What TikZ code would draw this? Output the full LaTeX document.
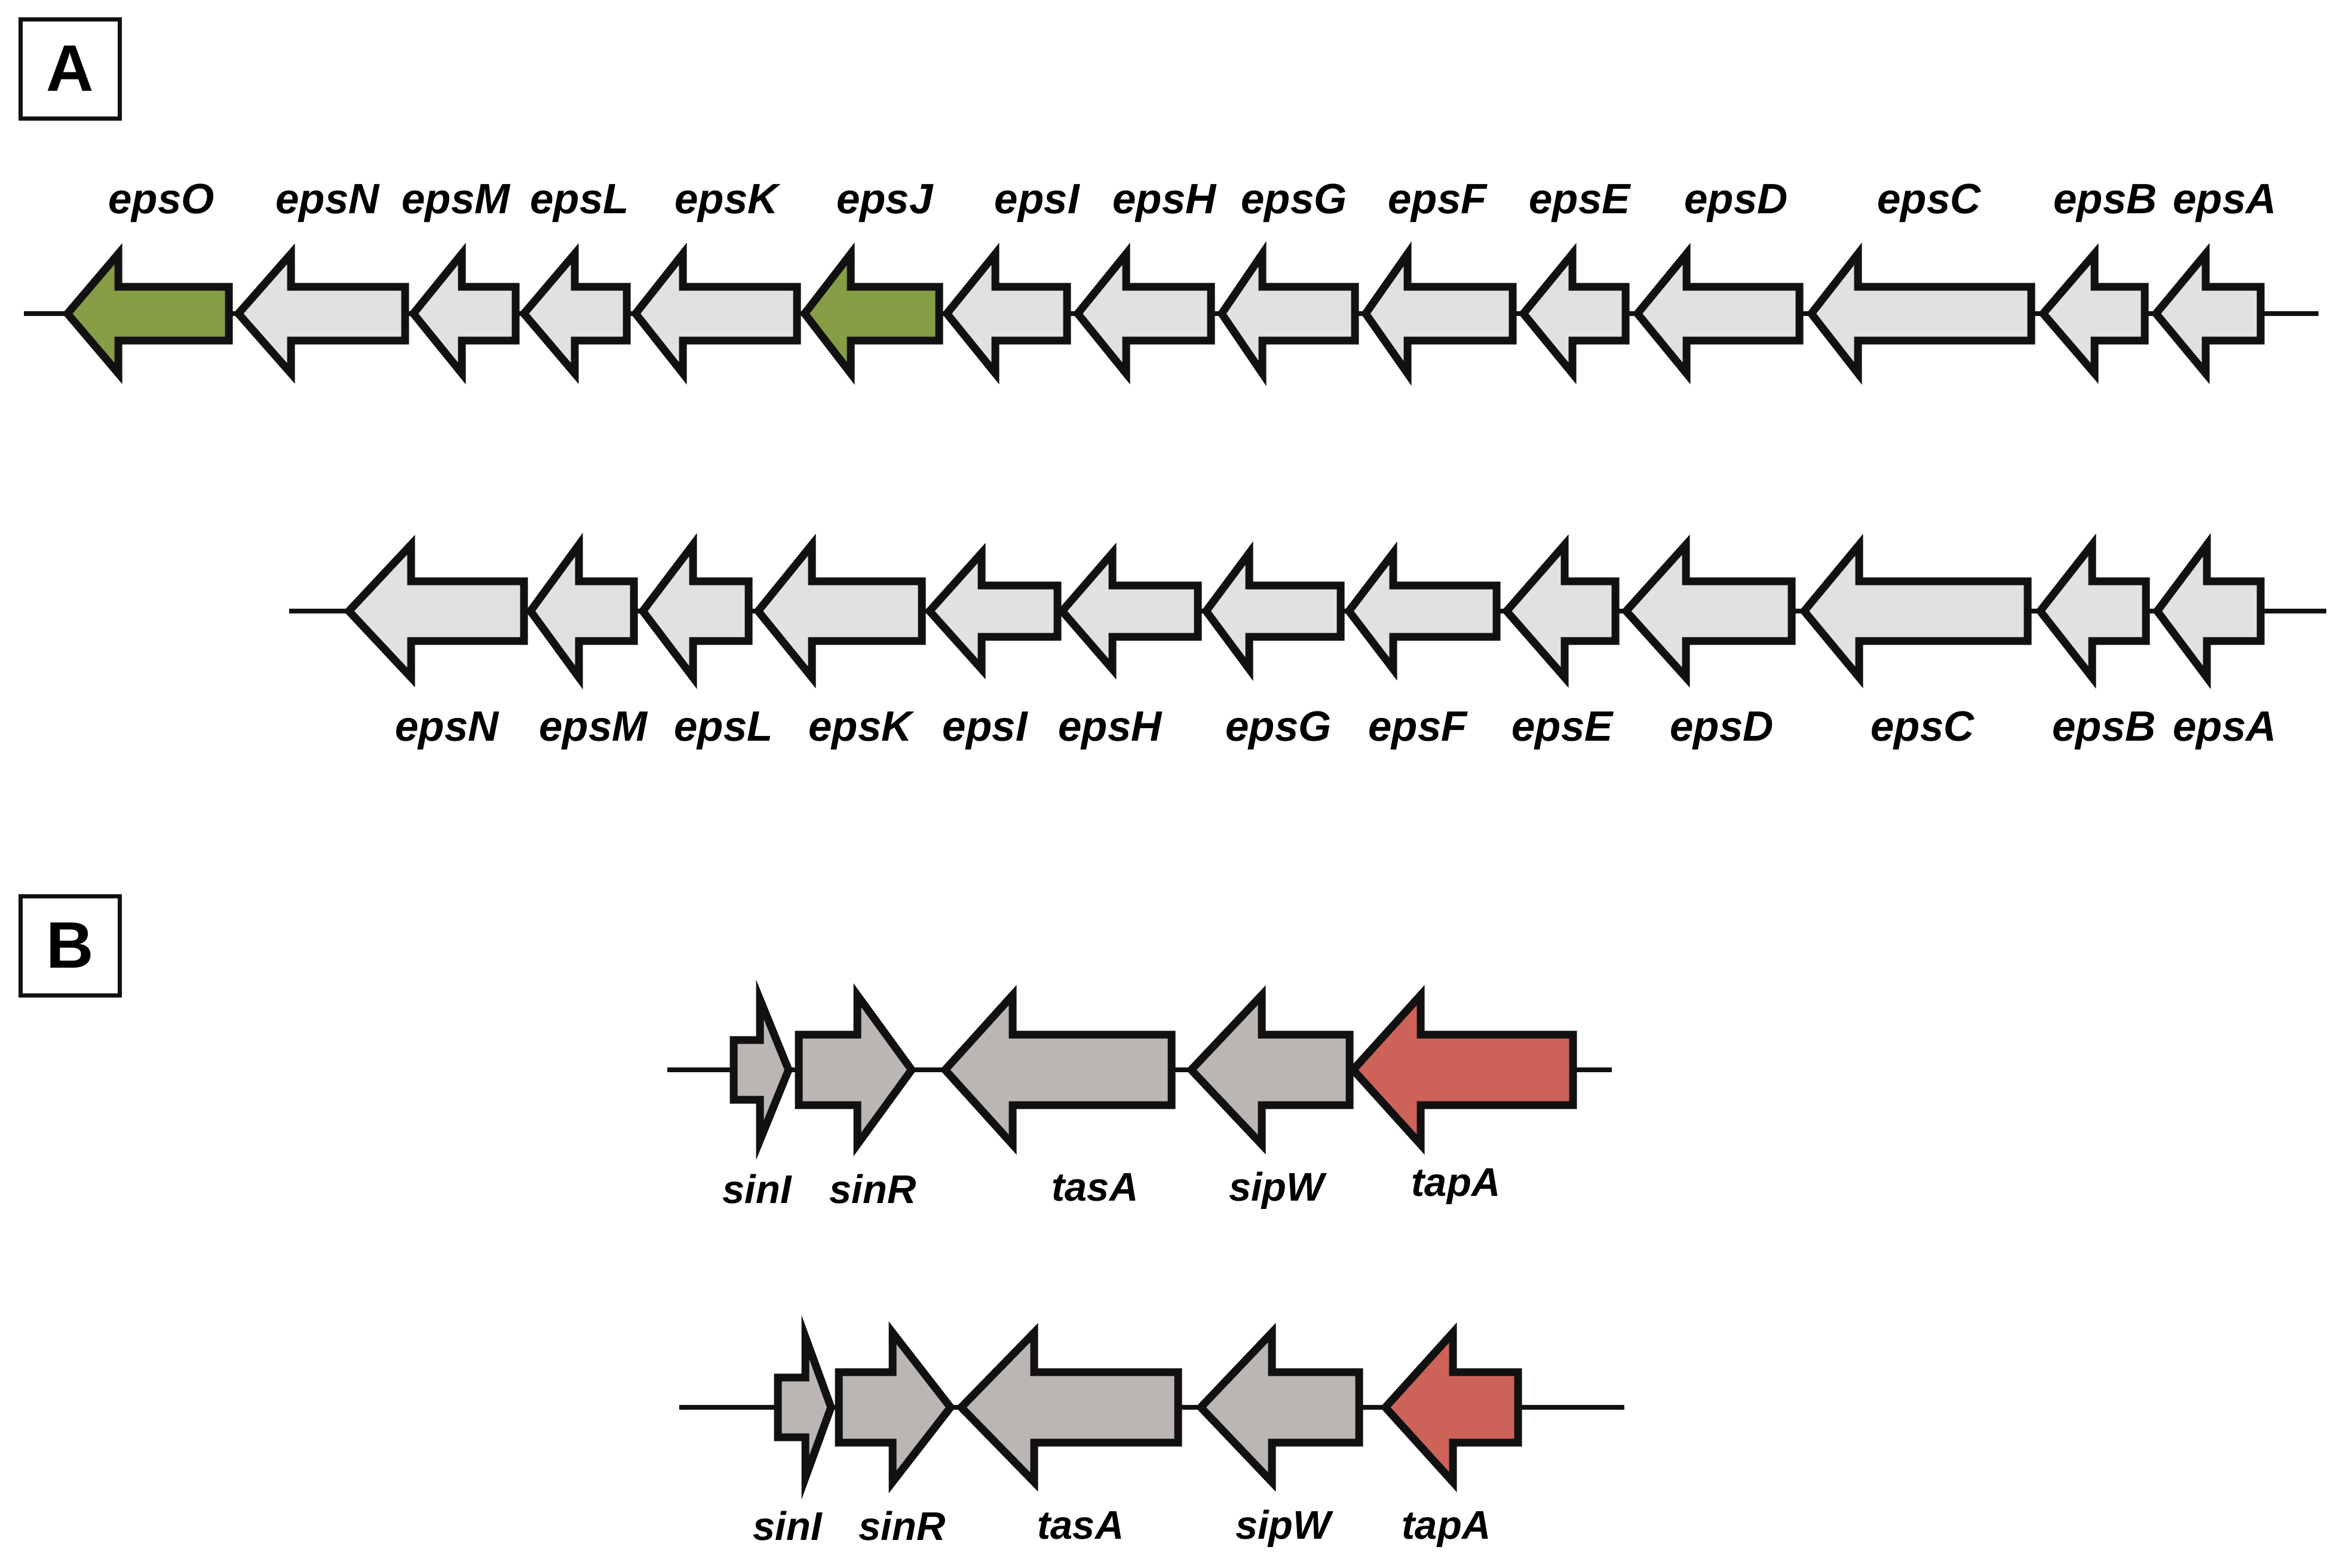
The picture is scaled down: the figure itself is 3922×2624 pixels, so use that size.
\documentclass[tikz,border=0pt]{standalone}
\usepackage{fontspec}
\setmainfont{Liberation Sans}
\definecolor{epsgreen}{HTML}{869D45}
\definecolor{epsgray}{HTML}{E3E1E0}
\definecolor{singray}{HTML}{BBB6B3}
\definecolor{tapred}{HTML}{CD6259}
\definecolor{ink}{HTML}{111111}
\newcommand{\genearrow}[7]{% tip x, head-base x, end x, centre y, head half, body half, fill
  \filldraw[genebox, fill=#7] ({#1},{#4}) -- ({#2},{#4-#5}) -- ({#2},{#4-#6}) -- ({#3},{#4-#6})
    -- ({#3},{#4+#6}) -- ({#2},{#4+#6}) -- ({#2},{#4+#5}) -- cycle;}
\tikzset{
  genebox/.style={draw=ink, line width=13pt, line join=miter},
  backbone/.style={draw=ink, line width=8pt},
  lab/.style={anchor=base, inner sep=0pt, font=\fontsize{71}{84}\selectfont\bfseries\itshape},
  labB/.style={anchor=base, inner sep=0pt, font=\fontsize{67}{80}\selectfont\bfseries\itshape},
  panel/.style={draw=ink, line width=7pt, minimum width=166pt, minimum height=166pt, inner sep=0pt,
    font=\fontsize{110}{120}\selectfont\bfseries}
}
\begin{document}
\begin{tikzpicture}[x=1pt,y=-1pt]
\useasboundingbox (0,0) rectangle (3922,2624);
\fill[white] (0,0) rectangle (3922,2624);

% panel letters
\node[panel] (pA) at (117,115) {A};
\node[panel] (pB) at (117,1583) {B};

% ---------- Panel A, row 1 ----------
\coordinate (r1l) at (40,525);
\coordinate (r1r) at (3881,525);
\draw[backbone] (r1l) -- (r1r);
\genearrow{113}{198}{383}{525}{100}{45}{epsgreen}
\genearrow{399}{487}{678}{525}{100}{45}{epsgray}
\genearrow{692}{773}{863}{525}{100}{45}{epsgray}
\genearrow{877}{962}{1049}{525}{100}{45}{epsgray}
\genearrow{1064}{1143}{1334}{525}{100}{45}{epsgray}
\genearrow{1347}{1424}{1572}{525}{100}{45}{epsgreen}
\genearrow{1585}{1666}{1786}{525}{100}{45}{epsgray}
\genearrow{1804}{1885}{2027}{525}{100}{45}{epsgray}
\genearrow{2045}{2113}{2268}{525}{100}{45}{epsgray}
\genearrow{2286}{2356}{2532}{525}{100}{45}{epsgray}
\genearrow{2550}{2632}{2721}{525}{100}{45}{epsgray}
\genearrow{2741}{2823}{3012}{525}{100}{45}{epsgray}
\genearrow{3032}{3110}{3400}{525}{100}{45}{epsgray}
\genearrow{3420}{3506}{3590}{525}{100}{45}{epsgray}
\genearrow{3609}{3692}{3784}{525}{100}{45}{epsgray}

\node[lab] (a1O) at (270,357) {epsO};
\node[lab] (a1N) at (548,357) {epsN};
\node[lab] (a1M) at (763,357) {epsM};
\node[lab] (a1L) at (970,357) {epsL};
\node[lab] (a1K) at (1216,357) {epsK};
\node[lab] (a1J) at (1481,357) {epsJ};
\node[lab] (a1I) at (1736,357) {epsI};
\node[lab] (a1H) at (1949,357) {epsH};
\node[lab] (a1G) at (2166,357) {epsG};
\node[lab] (a1F) at (2406,357) {epsF};
\node[lab] (a1E) at (2644,357) {epsE};
\node[lab] (a1D) at (2906,357) {epsD};
\node[lab] (a1C) at (3229,357) {epsC};
\node[lab] (a1B) at (3524,357) {epsB};
\node[lab] (a1A) at (3724,357) {epsA};

% ---------- Panel A, row 2 ----------
\coordinate (r2l) at (484,1023);
\coordinate (r2r) at (3894,1023);
\draw[backbone] (r2l) -- (r2r);
\genearrow{584}{688}{877}{1023}{111}{50}{epsgray}
\genearrow{888}{969}{1061}{1023}{111}{50}{epsgray}
\genearrow{1076}{1160}{1253}{1023}{111}{50}{epsgray}
\genearrow{1269}{1359}{1543}{1023}{111}{50}{epsgray}
\genearrow{1556}{1643}{1770}{1023}{97}{43}{epsgray}
\genearrow{1778}{1862}{2005}{1023}{97}{43}{epsgray}
\genearrow{2019}{2091}{2244}{1023}{97}{43}{epsgray}
\genearrow{2258}{2332}{2505}{1023}{97}{43}{epsgray}
\genearrow{2522}{2619}{2704}{1023}{111}{50}{epsgray}
\genearrow{2722}{2822}{2999}{1023}{111}{50}{epsgray}
\genearrow{3020}{3112}{3394}{1023}{111}{50}{epsgray}
\genearrow{3415}{3502}{3592}{1023}{111}{50}{epsgray}
\genearrow{3611}{3694}{3784}{1023}{111}{50}{epsgray}

\node[lab] (a2N) at (748,1240) {epsN};
\node[lab] (a2M) at (993,1240) {epsM};
\node[lab] (a2L) at (1211,1240) {epsL};
\node[lab] (a2K) at (1440,1240) {epsK};
\node[lab] (a2I) at (1649,1240) {epsI};
\node[lab] (a2H) at (1858,1240) {epsH};
\node[lab] (a2G) at (2140,1240) {epsG};
\node[lab] (a2F) at (2373,1240) {epsF};
\node[lab] (a2E) at (2615,1240) {epsE};
\node[lab] (a2D) at (2882,1240) {epsD};
\node[lab] (a2C) at (3218,1240) {epsC};
\node[lab] (a2B) at (3522,1240) {epsB};
\node[lab] (a2A) at (3724,1240) {epsA};

% ---------- Panel B, row 1 ----------
\coordinate (b1l) at (1117,1791);
\coordinate (b1r) at (2698,1791);
\draw[backbone] (b1l) -- (b1r);
\genearrow{1320}{1272}{1228}{1791}{118}{50}{singray}
\genearrow{1526}{1435}{1337}{1791}{125}{59}{singray}
\genearrow{1582}{1695}{1961}{1791}{125}{59}{singray}
\genearrow{1994}{2112}{2259}{1791}{125}{59}{singray}
\genearrow{2265}{2378}{2633}{1791}{125}{59}{tapred}

\node[labB] (b1sinI) at (1267,2014) {sinI};
\node[labB] (b1sinR) at (1461,2014) {sinR};
\node[labB] (b1tasA) at (1833,2010) {tasA};
\node[labB] (b1sipW) at (2137,2010) {sipW};
\node[labB] (b1tapA) at (2437,2002) {tapA};

% ---------- Panel B, row 2 ----------
\coordinate (b2l) at (1137,2356);
\coordinate (b2r) at (2719,2356);
\draw[backbone] (b2l) -- (b2r);
\genearrow{1391}{1348}{1302}{2356}{118}{50}{singray}
\genearrow{1591}{1494}{1404}{2356}{125}{59}{singray}
\genearrow{1609}{1731}{1972}{2356}{125}{59}{singray}
\genearrow{2010}{2129}{2275}{2356}{125}{59}{singray}
\genearrow{2319}{2432}{2541}{2356}{125}{59}{tapred}

\node[labB] (b2sinI) at (1318,2578) {sinI};
\node[labB] (b2sinR) at (1510,2578) {sinR};
\node[labB] (b2tasA) at (1809,2576) {tasA};
\node[labB] (b2sipW) at (2148,2576) {sipW};
\node[labB] (b2tapA) at (2421,2576) {tapA};
\end{tikzpicture}
\end{document}
